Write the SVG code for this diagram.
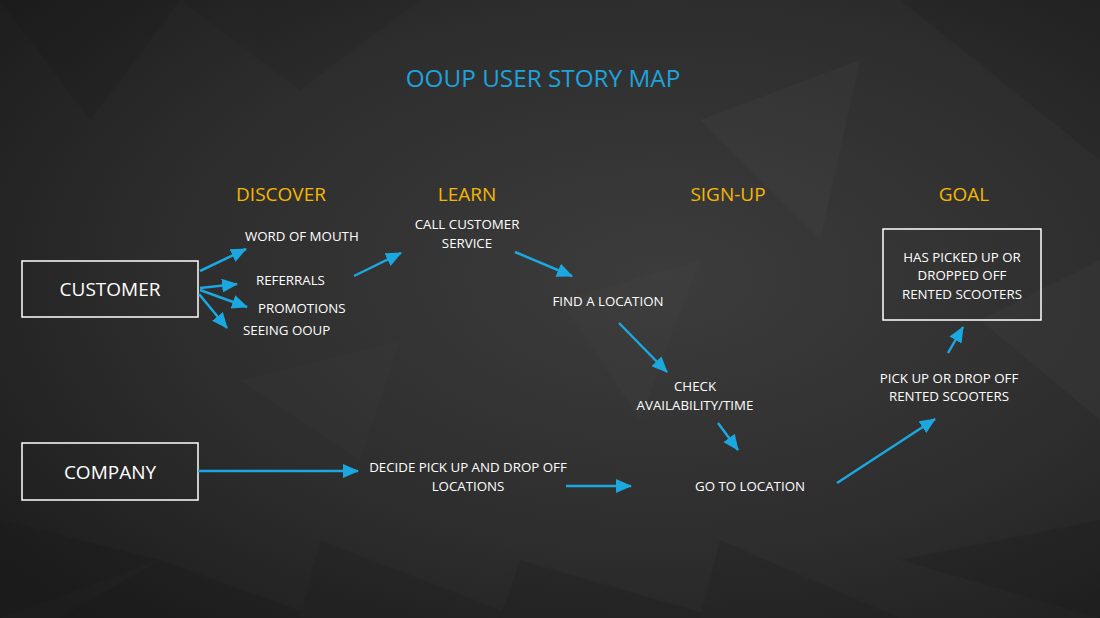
<svg xmlns="http://www.w3.org/2000/svg" width="1100" height="618" viewBox="0 0 1100 618">
<defs>
<radialGradient id="bg" cx="0.6" cy="0.45" r="0.75">
<stop offset="0" stop-color="#3d3c3c"/>
<stop offset="0.6" stop-color="#2e2d2d"/>
<stop offset="1" stop-color="#1d1d1d"/>
</radialGradient>
<marker id="ah" viewBox="0 0 16 14" refX="15" refY="7" markerWidth="16" markerHeight="14" markerUnits="userSpaceOnUse" orient="auto">
<path d="M0,0 L16,7 L0,14 Z" fill="#1ba8e0"/>
</marker>
<style>
.t{font-family:"Open Sans","Liberation Sans",sans-serif;fill:#ffffff}
.s{font-size:13.3px}
.b{font-size:19px}
.h{font-size:19px;fill:#f5b800}
.title{font-size:24.3px;fill:#1ea2dc}
.box{fill:none;stroke:#ffffff;stroke-width:1.5}
.c{stroke:#1ba8e0;stroke-width:2.5;fill:none;marker-end:url(#ah)}
.poly{stroke:none}
</style>
</defs>
<rect x="0" y="0" width="1100" height="618" fill="url(#bg)"/>
<g opacity="0.13">
<polygon class="poly" points="0,0 180,0 90,120" fill="#111"/>
<polygon class="poly" points="180,0 420,0 300,90" fill="#1a1a1a"/>
<polygon class="poly" points="900,0 1100,0 1100,160" fill="#101010"/>
<polygon class="poly" points="700,120 860,60 820,240" fill="#555"/>
<polygon class="poly" points="560,300 700,260 640,420" fill="#4a4a4a"/>
<polygon class="poly" points="0,520 160,560 0,618" fill="#111"/>
<polygon class="poly" points="160,560 320,618 60,618" fill="#0f0f0f"/>
<polygon class="poly" points="320,540 520,618 300,618" fill="#151515"/>
<polygon class="poly" points="520,560 720,618 500,618" fill="#111"/>
<polygon class="poly" points="720,540 900,618 700,618" fill="#141414"/>
<polygon class="poly" points="900,560 1100,520 1100,618" fill="#101010"/>
<polygon class="poly" points="980,320 1100,260 1100,420" fill="#555"/>
<polygon class="poly" points="240,380 400,340 360,460" fill="#444"/>
</g>
<text class="t title" x="543" y="87" text-anchor="middle">OOUP USER STORY MAP</text>
<g id="headers">
<text class="t h" x="281" y="201" text-anchor="middle">DISCOVER</text>
<text class="t h" x="467" y="201" text-anchor="middle">LEARN</text>
<text class="t h" x="728" y="201" text-anchor="middle">SIGN-UP</text>
<text class="t h" x="964" y="201" text-anchor="middle">GOAL</text>
</g>
<g id="customer">
<rect class="box" x="22" y="261" width="176" height="56"/>
<text class="t b" x="110" y="296" text-anchor="middle">CUSTOMER</text>
</g>
<g id="company">
<rect class="box" x="22" y="443" width="176" height="57"/>
<text class="t b" x="110" y="479" text-anchor="middle">COMPANY</text>
</g>
<g id="goal">
<rect class="box" x="883" y="229" width="158" height="91"/>
<text class="t s" x="962" y="262" text-anchor="middle">HAS PICKED UP OR</text>
<text class="t s" x="962" y="280" text-anchor="middle">DROPPED OFF</text>
<text class="t s" x="962" y="299" text-anchor="middle">RENTED SCOOTERS</text>
</g>
<g id="word-of-mouth"><text class="t s" x="245" y="241">WORD OF MOUTH</text></g>
<g id="referrals"><text class="t s" x="256" y="285">REFERRALS</text></g>
<g id="promotions"><text class="t s" x="258" y="313">PROMOTIONS</text></g>
<g id="seeing-ooup"><text class="t s" x="243" y="335">SEEING OOUP</text></g>
<g id="call-customer-service">
<text class="t s" x="467" y="229" text-anchor="middle">CALL CUSTOMER</text>
<text class="t s" x="467" y="248" text-anchor="middle">SERVICE</text>
</g>
<g id="find-location"><text class="t s" x="608" y="306" text-anchor="middle">FIND A LOCATION</text></g>
<g id="check">
<text class="t s" x="695" y="391" text-anchor="middle">CHECK</text>
<text class="t s" x="695" y="410" text-anchor="middle">AVAILABILITY/TIME</text>
</g>
<g id="decide">
<text class="t s" x="468" y="472" text-anchor="middle">DECIDE PICK UP AND DROP OFF</text>
<text class="t s" x="468" y="491" text-anchor="middle">LOCATIONS</text>
</g>
<g id="go-to-location"><text class="t s" x="750" y="491" text-anchor="middle">GO TO LOCATION</text></g>
<g id="pick-up">
<text class="t s" x="949" y="383" text-anchor="middle">PICK UP OR DROP OFF</text>
<text class="t s" x="949" y="401" text-anchor="middle">RENTED SCOOTERS</text>
</g>
<g id="connectors">
<line class="c" x1="200" y1="271" x2="246" y2="249"/>
<line class="c" x1="200" y1="288" x2="237" y2="284"/>
<line class="c" x1="200" y1="290" x2="247" y2="307"/>
<line class="c" x1="199" y1="294" x2="227" y2="328"/>
<line class="c" x1="354" y1="276" x2="401" y2="253"/>
<line class="c" x1="515" y1="252" x2="572" y2="276"/>
<line class="c" x1="619" y1="323" x2="667" y2="372"/>
<line class="c" x1="718" y1="423" x2="738" y2="450"/>
<line class="c" x1="198" y1="471" x2="358" y2="471"/>
<line class="c" x1="566" y1="486" x2="631" y2="486"/>
<line class="c" x1="837" y1="483" x2="935" y2="419"/>
<line class="c" x1="948" y1="353" x2="963" y2="327"/>
</g>
</svg>
